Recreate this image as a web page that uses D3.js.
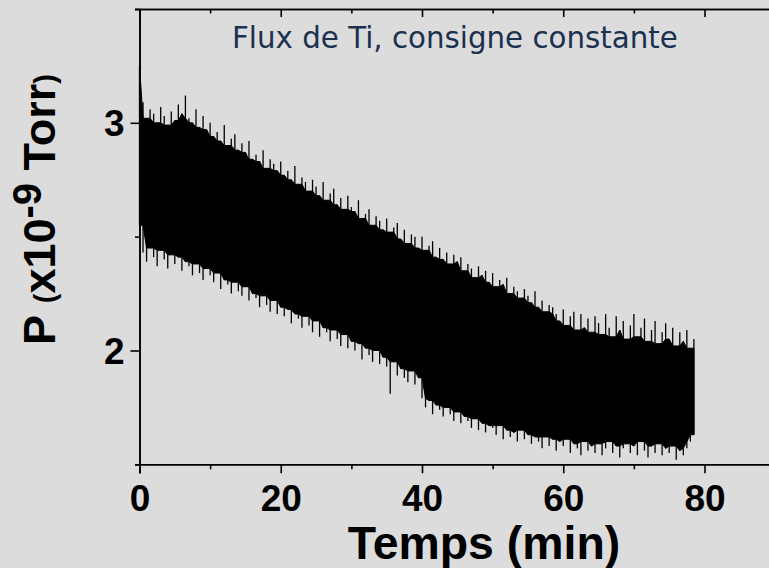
<!DOCTYPE html>
<html><head><meta charset="utf-8">
<script src="https://cdn.jsdelivr.net/npm/d3@7/dist/d3.min.js"></script>
<style>html,body{margin:0;padding:0;background:#dcdcdc;}svg{display:block;}</style>
</head><body>
<svg id="chart" width="769" height="568"></svg>
<script>
// ---- data ----
const title = "Flux de Ti, consigne constante";
const xTickValues = [0, 20, 40, 60, 80];
const yTickValues = [2, 3];
const sampleStep = 0.5; // minutes between envelope samples
// upper edge of the noisy pressure trace (x10^-9 Torr), every 0.5 min from t = 0
const upper = [
 3.25,3.09,3.02,3.06,3.04,3.00,3.07,3.03,2.99,3.05,
 3.01,3.08,3.04,3.12,3.02,3.00,3.06,2.98,3.03,2.97,
 3.00,2.94,2.96,2.92,2.99,2.90,2.93,2.95,2.88,2.91,
 2.87,2.92,2.84,2.86,2.83,2.88,2.80,2.84,2.82,2.79,
 2.83,2.77,2.79,2.75,2.81,2.73,2.76,2.74,2.70,2.75,
 2.72,2.68,2.74,2.66,2.69,2.71,2.64,2.67,2.62,2.68,
 2.63,2.61,2.66,2.58,2.60,2.62,2.55,2.59,2.57,2.53,
 2.58,2.52,2.54,2.56,2.49,2.53,2.47,2.51,2.50,2.45,
 2.50,2.44,2.46,2.48,2.41,2.45,2.40,2.43,2.38,2.42,
 2.39,2.41,2.35,2.38,2.36,2.32,2.37,2.33,2.35,2.30,
 2.34,2.28,2.31,2.29,2.32,2.25,2.28,2.26,2.23,2.27,
 2.24,2.21,2.26,2.19,2.22,2.17,2.20,2.19,2.16,2.13,
 2.18,2.11,2.15,2.17,2.09,2.16,2.10,2.14,2.08,2.15,
 2.12,2.07,2.16,2.10,2.06,2.15,2.09,2.13,2.05,2.11,
 2.16,2.06,2.10,2.14,2.04,2.09,2.13,2.03,2.08,2.12,
 2.05,2.10,2.02,2.08,2.04,2.09,2.01,2.05
];
// lower edge of the trace
const lower = [
 2.55,2.43,2.39,2.45,2.41,2.37,2.44,2.40,2.36,2.42,
 2.38,2.41,2.35,2.39,2.37,2.33,2.38,2.34,2.31,2.36,
 2.33,2.30,2.34,2.27,2.31,2.29,2.25,2.30,2.26,2.24,
 2.28,2.22,2.25,2.23,2.19,2.24,2.20,2.17,2.22,2.16,
 2.19,2.15,2.18,2.12,2.16,2.14,2.10,2.15,2.11,2.08,
 2.13,2.06,2.10,2.08,2.04,2.09,2.05,2.02,2.07,2.01,
 2.04,2.00,2.03,1.96,2.01,1.98,1.95,2.00,1.94,1.97,
 1.93,1.81,1.95,1.89,1.92,1.88,1.86,1.91,1.85,1.88,
 1.79,1.75,1.78,1.72,1.76,1.74,1.71,1.75,1.72,1.69,
 1.73,1.68,1.71,1.69,1.66,1.70,1.65,1.68,1.64,1.67,
 1.66,1.63,1.67,1.61,1.65,1.62,1.64,1.60,1.65,1.61,
 1.63,1.59,1.62,1.60,1.57,1.62,1.58,1.61,1.56,1.60,
 1.58,1.61,1.55,1.59,1.57,1.54,1.60,1.56,1.58,1.55,
 1.59,1.54,1.57,1.60,1.55,1.58,1.53,1.57,1.59,1.55,
 1.58,1.54,1.60,1.56,1.53,1.58,1.55,1.59,1.54,1.57,
 1.55,1.58,1.52,1.56,1.54,1.57,1.60,1.63
];

// ---- layout ----
const svg = d3.select("#chart");
const W = 769, H = 568;
const plotLeft = 139.5, plotTop = 9, plotBottom = 464.3;
const x = d3.scaleLinear().domain([0, 90]).range([plotLeft, plotLeft + 90 * 7.0625]);
const y = d3.scaleLinear().domain([1.5, 3.5]).range([plotBottom, plotTop]);

svg.append("rect").attr("width", W).attr("height", H).attr("fill", "#dcdcdc");

const rows = upper.map((u, i) => ({t: i * sampleStep, hi: u, lo: lower[i]}));
// solid core of the band: inner envelope of neighbouring samples
const core = rows.map((d, i) => {
  const a = rows[Math.max(0, i - 1)], b = rows[Math.min(rows.length - 1, i + 1)];
  return {t: d.t, hi: Math.min(a.hi, d.hi, b.hi), lo: Math.max(a.lo, d.lo, b.lo)};
});
core[0].hi = rows[0].hi; core[0].lo = rows[0].lo;

svg.append("path")
  .datum(core)
  .attr("d", d3.area().x(d => x(d.t)).y0(d => y(d.lo)).y1(d => y(d.hi)))
  .attr("fill", "#000").attr("stroke", "#000").attr("stroke-width", 1);

// needle-like excursions of the trace
svg.append("g").selectAll("line").data(rows).join("line")
  .attr("x1", d => x(d.t)).attr("x2", d => x(d.t))
  .attr("y1", d => y(d.lo)).attr("y2", d => y(d.hi))
  .attr("stroke", "#000").attr("stroke-width", 1.3);

// axes
const axisColor = "#000";
const xMajor = [0, 20, 40, 60, 80];
const xMinor = [10, 30, 50, 70, 90];
const yMinor = [1.5, 2.5, 3.5];

const gB = svg.append("g").attr("transform", `translate(0,${plotBottom})`);
gB.call(d3.axisBottom(x).tickValues(xTickValues).tickSize(9).tickSizeOuter(0).tickFormat(d3.format("d")));
gB.append("g").call(d3.axisBottom(x).tickValues(xMinor).tickSize(5).tickSizeOuter(0).tickFormat(""));
gB.selectAll(".domain").attr("d", `M${plotLeft - 4.5},0.5H${W}`);

const gT = svg.append("g").attr("transform", `translate(0,${plotTop})`);
gT.call(d3.axisBottom(x).tickValues(xMajor).tickSize(8).tickSizeOuter(0).tickFormat(""));
gT.append("g").call(d3.axisBottom(x).tickValues(xMinor).tickSize(4.5).tickSizeOuter(0).tickFormat(""));
gT.selectAll(".domain").attr("d", `M${plotLeft - 4.5},0.5H${W}`);

const gL = svg.append("g").attr("transform", `translate(${plotLeft},0)`);
gL.call(d3.axisLeft(y).tickValues(yTickValues).tickSize(9).tickSizeOuter(0).tickFormat(d3.format("d")));
gL.append("g").call(d3.axisLeft(y).tickValues(yMinor).tickSize(4.5).tickSizeOuter(0).tickFormat(""));
gL.selectAll(".domain").attr("d", `M0.5,${plotTop}V${plotBottom + 9}`);

svg.selectAll(".domain, .tick line").attr("stroke", axisColor).attr("stroke-width", 1.6);
svg.selectAll(".tick text").attr("fill", "#000")
  .attr("font-family", "'Liberation Sans', Arial, sans-serif")
  .attr("font-weight", "bold").attr("font-size", 37);
gB.selectAll(".tick text").attr("y", 0).attr("dy", null).attr("transform", "translate(0,46.4)");
gL.selectAll(".tick text").attr("x", -15).attr("dy", null).attr("transform", "translate(0,13)");

// axis titles
svg.append("text").attr("x", 484).attr("y", 559).attr("text-anchor", "middle")
  .attr("font-family", "'Liberation Sans', Arial, sans-serif").attr("font-weight", "bold")
  .attr("font-size", 46.4).attr("fill", "#000").text("Temps (min)");

const yt = svg.append("text").attr("transform", "translate(55,345) rotate(-90)")
  .attr("font-family", "'Liberation Sans', Arial, sans-serif").attr("font-weight", "bold")
  .attr("fill", "#000").attr("font-size", 45);
yt.append("tspan").text("P ");
yt.append("tspan").attr("font-size", 29).text("(");
yt.append("tspan").text("x10");
yt.append("tspan").attr("font-size", 40).attr("dy", -14).text("-9");
yt.append("tspan").attr("dy", 14).text(" Torr");
yt.append("tspan").attr("font-size", 29).text(")");

// in-plot title
svg.append("text").attr("x", 232).attr("y", 47.7)
  .attr("font-family", "'DejaVu Sans', Verdana, sans-serif")
  .attr("font-size", 29.3).attr("fill", "#1b3150").text(title);
</script>
</body></html>
